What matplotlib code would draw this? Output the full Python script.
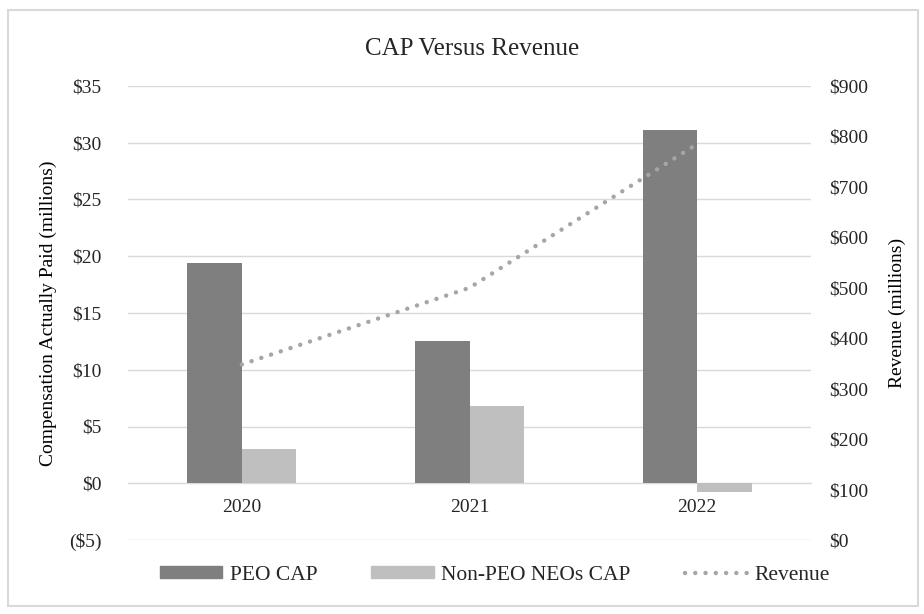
import numpy as np
import matplotlib
matplotlib.use("Agg")
import matplotlib.pyplot as plt
from matplotlib.patches import Rectangle, Patch
from matplotlib.lines import Line2D
from matplotlib.ticker import FuncFormatter, MultipleLocator

years = ["2020", "2021", "2022"]
peo_cap = [19.4, 12.5, 31.1]
non_peo_cap = [3.0, 6.8, -0.8]
revenue = [348, 500, 785]

PEO_COLOR = "#7f7f7f"
NONPEO_COLOR = "#bfbfbf"
REV_COLOR = "#a6a6a6"
GRID_COLOR = "#d9d9d9"
TEXT_COLOR = "#262626"

plt.rcParams["font.family"] = ["Liberation Serif", "DejaVu Serif"]
plt.rcParams["text.color"] = TEXT_COLOR


def dollars(v, pos=None):
    if v < 0:
        return "(${:,.0f})".format(-v)
    return "${:,.0f}".format(v)


fig = plt.figure(figsize=(9.24, 6.14), dpi=100)
ax = fig.add_axes([128 / 924, 1 - 540 / 614, (811 - 128) / 924, (540 - 86) / 614])

x = np.arange(len(years))
width = 0.24
ax.bar(x - width / 2, peo_cap, width, color=PEO_COLOR, zorder=3)
ax.bar(x + width / 2, non_peo_cap, width, color=NONPEO_COLOR, zorder=3)

ax.set_xlim(-0.5, len(years) - 0.5)
ax.set_ylim(-5, 35)
ax.yaxis.set_major_locator(MultipleLocator(5))
ax.yaxis.set_major_formatter(FuncFormatter(dollars))
ax.grid(axis="y", color=GRID_COLOR, linewidth=1, zorder=0)
ax.set_axisbelow(True)

# category axis crosses at zero, labels hang just under it
ax.spines["bottom"].set_position(("data", 0))
ax.spines["bottom"].set_color(GRID_COLOR)
for s in ["top", "left", "right"]:
    ax.spines[s].set_visible(False)
ax.set_xticks(x)
ax.set_xticklabels(years)
ax.tick_params(axis="x", length=0, pad=11, labelsize=14, labelcolor=TEXT_COLOR)
ax.tick_params(axis="y", length=0, pad=19, labelsize=14, labelcolor=TEXT_COLOR)
ax.set_ylabel("Compensation Actually Paid (millions)", fontsize=14, labelpad=9)

ax2 = ax.twinx()
ax2.plot(x, revenue, color=REV_COLOR, linewidth=3.2,
         linestyle=(0, (0.01, 2.3)), dash_capstyle="round", zorder=4)
ax2.set_ylim(0, 900)
ax2.yaxis.set_major_locator(MultipleLocator(100))
ax2.yaxis.set_major_formatter(FuncFormatter(dollars))
ax2.tick_params(axis="y", length=0, pad=13, labelsize=14, labelcolor=TEXT_COLOR)
ax2.set_ylabel("Revenue (millions)", fontsize=14, labelpad=15)
for s in ax2.spines.values():
    s.set_visible(False)

fig.text(472 / 924, 1 - 55 / 614, "CAP Versus Revenue", ha="center", va="baseline", fontsize=18)

handles = [
    Patch(color=PEO_COLOR),
    Patch(color=NONPEO_COLOR),
    Line2D([], [], color=REV_COLOR, linewidth=3.2, linestyle=(0, (0.01, 2.3)), dash_capstyle="round"),
]
fig.legend(handles, ["PEO CAP", "Non-PEO NEOs CAP", "Revenue"], loc="center",
           bbox_to_anchor=(495 / 924, 1 - 575 / 614), ncol=3, frameon=False,
           fontsize=15.5, handlelength=2.9, handleheight=0.45, columnspacing=2.5, handletextpad=0.35)

fig.patches.append(Rectangle((8 / 924, 1 - 606 / 614), 910 / 924, 596 / 614,
                             transform=fig.transFigure, fill=False,
                             edgecolor=GRID_COLOR, linewidth=1.5))

fig.savefig("out.png", dpi=100)
